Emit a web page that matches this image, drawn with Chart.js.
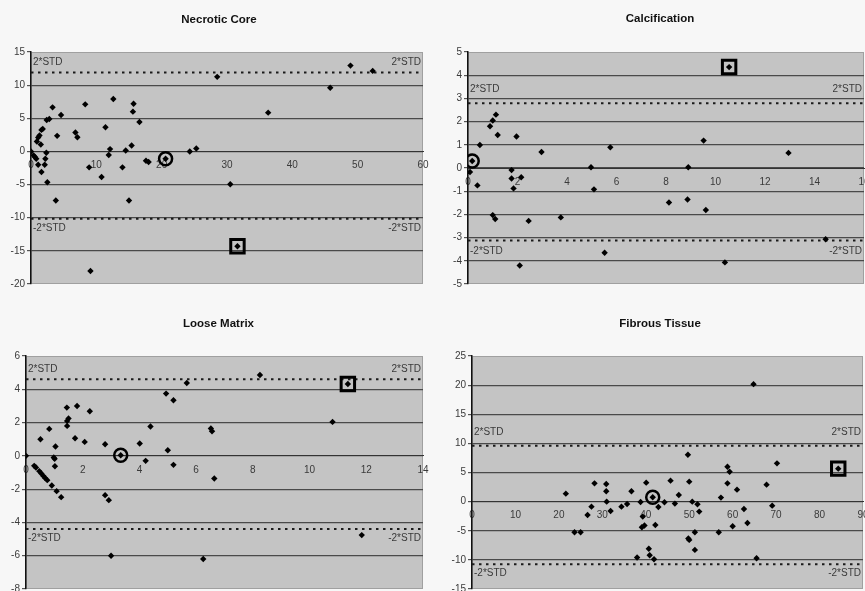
<!DOCTYPE html>
<html>
<head>
<meta charset="utf-8">
<script src="https://cdn.jsdelivr.net/npm/chart.js@4/dist/chart.umd.min.js"></script>
<style>
  html, body { margin: 0; padding: 0; background: #f7f7f7; }
  #wrap { position: relative; width: 865px; height: 591px; overflow: hidden; }
  canvas { position: absolute; }
</style>
</head>
<body>
<div id="wrap">
  <canvas id="necrotic" width="432" height="295" style="left:0;top:0"></canvas>
  <canvas id="calcif" width="425" height="295" style="left:440px;top:0"></canvas>
  <canvas id="loose" width="432" height="296" style="left:0;top:295px"></canvas>
  <canvas id="fibrous" width="425" height="296" style="left:440px;top:295px"></canvas>
</div>
<script>
// Necrotic Core
const necroticX = [0, 0.4, 0.6, 0.8, 1.1, 0.9, 1.1, 1.3, 1.5, 1.6, 1.8, 1.6, 2.1, 2.2, 2.35, 2.4, 2.8, 2.5, 3.3, 3.8, 4.0, 4.6,
    6.8, 7.1, 8.3, 8.9, 9.1, 10.8, 11.4, 11.9, 12.1, 12.6, 14.0, 14.5, 15.0, 15.4, 15.6, 15.7, 16.6, 17.6, 18.0,
    20.6, 24.3, 25.3, 28.5, 30.5, 31.6, 36.3, 45.8, 48.9, 52.3];
const necroticY = [0, -0.6, -0.85, -1.1, -2.0, 1.5, 2.1, 2.4, 1.05, 3.25, 3.4, -3.1, -2.0, -1.1, -0.2, 4.75, 4.9, -4.65, 6.65, -7.4, 2.35, 5.5,
    2.85, 2.15, 7.1, -2.4, -18.05, -3.85, 3.65, -0.55, 0.35, 7.9, -2.4, 0.15, -7.4, 0.9, 6.0, 7.2, 4.45, -1.4, -1.6,
    -1.1, 0.0, 0.45, 11.25, -4.95, -14.3, 5.85, 9.6, 12.95, 12.15];
const necroticStd = [11.9, -10.15];
const necroticCircle = [20.6, -1.1];
const necroticSquare = [31.6, -14.3];

// Calcification
const calcX = [0.08, 0.17, 0.38, 0.48, 0.89, 1.0, 1.13, 1.2, 1.0, 1.1, 1.76, 1.76, 1.84, 1.96, 2.15, 2.09, 2.45, 2.97, 3.75,
    4.97, 5.09, 5.52, 5.75, 8.12, 8.87, 8.9, 9.52, 9.61, 10.38, 10.55, 12.95, 14.45];
const calcY = [-0.17, 0.3, -0.75, 0.99, 1.8, 2.05, 2.3, 1.42, -2.03, -2.2, -0.09, -0.45, -0.88, 1.36, -0.4, -4.2, -2.28, 0.69, -2.13,
    0.03, -0.92, -3.65, 0.89, -1.49, -1.36, 0.03, 1.18, -1.81, -4.07, 4.35, 0.65, -3.07];
const calcStd = [2.79, -3.13];
const calcCircle = [0.17, 0.3];
const calcSquare = [10.55, 4.35];

// Loose Matrix
const looseX = [0, 0.29, 0.35, 0.47, 0.54, 0.62, 0.68, 0.75, 0.91, 1.08, 1.24, 0.51, 0.82, 0.98, 1.01, 1.04, 1.02,
    1.44, 1.45, 1.5, 1.45, 1.8, 1.73, 2.07, 2.25, 2.79, 2.79, 2.92, 3.0, 3.34, 4.01, 4.22, 4.39, 4.94, 5.0, 5.2, 5.2,
    5.67, 6.25, 6.52, 6.56, 6.64, 8.25, 10.81, 11.35, 11.84];
const looseY = [0, -0.6, -0.7, -0.92, -1.06, -1.22, -1.34, -1.46, -1.78, -2.12, -2.48, 1.0, 1.62, -0.1, -0.18, 0.56, -0.62,
    2.9, 2.1, 2.25, 1.8, 3.0, 1.06, 0.84, 2.68, 0.7, -2.36, -2.66, -6.0, 0.04, 0.74, -0.3, 1.76, 3.74, 0.34, 3.34, -0.54,
    4.38, -6.2, 1.64, 1.48, -1.36, 4.86, 2.04, 4.32, -4.76];
const looseStd = [4.6, -4.4];
const looseCircle = [3.34, 0.04];
const looseSquare = [11.35, 4.32];

// Fibrous Tissue
const fibX = [21.6, 23.6, 25.0, 26.6, 27.5, 28.2, 30.9, 30.9, 31.0, 31.9, 34.4, 35.7, 36.7, 38.8, 38.0, 39.3, 39.1, 39.7,
    40.1, 40.7, 40.9, 41.9, 41.6, 42.9, 42.2, 44.3, 45.7, 46.7, 47.6, 49.7, 50.0, 49.8, 50.0, 50.7, 51.3, 51.3, 51.9, 52.3,
    56.8, 57.3, 58.8, 59.3, 58.8, 60.0, 61.0, 62.6, 63.4, 64.8, 65.5, 67.8, 69.1, 70.2, 84.3];
const fibY = [1.37, -5.26, -5.26, -2.29, -0.86, 3.14, 3.03, 1.77, 0.0, -1.6, -0.86, -0.4, 1.77, -0.06, -9.6, -2.57, -4.4, -4.1,
    3.26, -8.1, -9.2, -9.9, 0.74, -0.91, -4.0, -0.11, 3.6, -0.34, 1.14, 8.06, 3.43, -6.34, -6.57, 0.0, -5.26, -8.29, -0.46, -1.71,
    -5.26, 0.69, 6.0, 5.14, 3.14, -4.23, 2.06, -1.26, -3.66, 20.17, -9.71, 2.91, -0.69, 6.57, 5.66];
const fibStd = [9.6, -10.74];
const fibCircle = [41.6, 0.74];
const fibSquare = [84.3, 5.66];

const FONT = '"Liberation Sans", Arial, sans-serif';

// фон области построения, заголовок и подписи 2*STD
const panelDecor = {
    id: 'panelDecor',
    beforeDraw(chart) {
        const a = chart.chartArea;
        const ctx = chart.ctx;
        ctx.save();
        ctx.fillStyle = '#c4c4c4';
        ctx.fillRect(a.left, a.top, a.right - a.left, a.bottom - a.top);
        ctx.strokeStyle = '#a0a0a0';
        ctx.lineWidth = 1;
        ctx.strokeRect(a.left + 0.5, a.top + 0.5, a.right - a.left - 1, a.bottom - a.top - 1);
        ctx.restore();
    },
    afterDraw(chart, args, opts) {
        const a = chart.chartArea;
        const ctx = chart.ctx;
        const ys = chart.scales.y;
        const hi = ys.getPixelForValue(opts.std[0]) - opts.upGap;
        const lo = ys.getPixelForValue(opts.std[1]) + opts.downGap;
        ctx.save();
        ctx.textBaseline = 'middle';
        ctx.textAlign = 'center';
        ctx.font = 'bold 11.5px ' + FONT;
        ctx.fillStyle = '#111';
        ctx.fillText(opts.title, (a.left + a.right) / 2 + opts.titleDx, opts.titleY);

        ctx.font = '10px ' + FONT;
        ctx.fillStyle = '#3a3a3a';
        ctx.textAlign = 'left';
        ctx.fillText('2*STD', a.left + 2, hi);
        ctx.fillText('-2*STD', a.left + 2, lo);
        ctx.textAlign = 'right';
        ctx.fillText('2*STD', a.right - 2, hi);
        ctx.fillText('-2*STD', a.right - 2, lo);
        ctx.restore();
    }
};

function pts(xs, ys) {
    return xs.map((x, i) => ({ x: x, y: ys[i] }));
}

function makePanel(id, p) {
    const ctx = document.getElementById(id).getContext('2d');
    const stdLine = (v) => ({
        type: 'line',
        data: [{ x: p.xr[0], y: v }, { x: p.xr[1], y: v }],
        showLine: true,
        borderColor: '#1a1a1a',
        borderWidth: 2,
        borderDash: [2.5, 4.5],
        pointRadius: 0
    });
    return new Chart(ctx, {
        type: 'scatter',
        data: {
            datasets: [
                {
                    data: [{ x: p.circle[0], y: p.circle[1] }],
                    pointStyle: 'circle',
                    pointRadius: 6.5,
                    borderWidth: 2.5,
                    borderColor: '#000',
                    backgroundColor: 'rgba(0,0,0,0)'
                },
                {
                    data: [{ x: p.square[0], y: p.square[1] }],
                    pointStyle: 'rect',
                    pointRadius: 9.5,
                    borderWidth: 3,
                    borderColor: '#000',
                    backgroundColor: 'rgba(0,0,0,0)'
                },
                {
                    data: pts(p.x, p.y),
                    pointStyle: 'rectRot',
                    pointRadius: 3.2,
                    borderWidth: 0,
                    backgroundColor: '#000'
                },
                stdLine(p.std[0]),
                stdLine(p.std[1])
            ]
        },
        options: {
            responsive: false,
            animation: false,
            devicePixelRatio: 1,
            layout: { autoPadding: false, padding: { left: 0, top: p.padTop, right: p.padRight, bottom: p.padBottom } },
            scales: {
                x: {
                    type: 'linear',
                    min: p.xr[0],
                    max: p.xr[1],
                    position: { y: 0 },
                    ticks: { stepSize: p.xr[2], color: '#3a3a3a', font: { family: FONT, size: 10 }, padding: 8, maxRotation: 0, autoSkip: false },
                    grid: { drawOnChartArea: false, drawTicks: false },
                    border: { display: true, color: '#333', width: 1 },
                    afterFit(s) { s.height = 0; s.paddingLeft = 0; s.paddingRight = 0; }
                },
                y: {
                    min: p.yr[0],
                    max: p.yr[1],
                    ticks: { stepSize: p.yr[2], color: '#3a3a3a', font: { family: FONT, size: 10 }, padding: 2 },
                    grid: {
                        color: (c) => (c.tick && (c.tick.value === p.yr[0] || c.tick.value === p.yr[1])) ? 'rgba(0,0,0,0)' : '#4a4a4a',
                        tickColor: '#555',
                        lineWidth: 1.2,
                        tickLength: 4
                    },
                    border: { color: '#111', width: 1.5 },
                    afterFit(s) { s.width = p.yWidth; s.paddingTop = 0; s.paddingBottom = 0; }
                }
            },
            plugins: {
                legend: { display: false },
                tooltip: { enabled: false },
                title: { display: false },
                panelDecor: { title: p.title, titleDx: p.titleDx, titleY: p.titleY, std: p.std, upGap: p.upGap, downGap: p.downGap }
            }
        },
        plugins: [panelDecor]
    });
}

makePanel('necrotic', {
    title: 'Necrotic Core', x: necroticX, y: necroticY, std: necroticStd,
    circle: necroticCircle, square: necroticSquare,
    xr: [0, 60, 10], yr: [-20, 15, 5],
    yWidth: 31, padTop: 52, padRight: 9, padBottom: 11, titleDx: -8, titleY: 20, upGap: 10, downGap: 10
});
makePanel('calcif', {
    title: 'Calcification', x: calcX, y: calcY, std: calcStd,
    circle: calcCircle, square: calcSquare,
    xr: [0, 16, 2], yr: [-5, 5, 1],
    yWidth: 28, padTop: 52, padRight: 1, padBottom: 11, titleDx: -6, titleY: 19, upGap: 14, downGap: 11
});
makePanel('loose', {
    title: 'Loose Matrix', x: looseX, y: looseY, std: looseStd,
    circle: looseCircle, square: looseSquare,
    xr: [0, 14, 2], yr: [-8, 6, 2],
    yWidth: 26, padTop: 61, padRight: 9, padBottom: 2, titleDx: -6, titleY: 29, upGap: 10, downGap: 9
});
makePanel('fibrous', {
    title: 'Fibrous Tissue', x: fibX, y: fibY, std: fibStd,
    circle: fibCircle, square: fibSquare,
    xr: [0, 90, 10], yr: [-15, 25, 5],
    yWidth: 32, padTop: 61, padRight: 2, padBottom: 2, titleDx: -7.5, titleY: 29, upGap: 13, downGap: 9
});
</script>
</body>
</html>
